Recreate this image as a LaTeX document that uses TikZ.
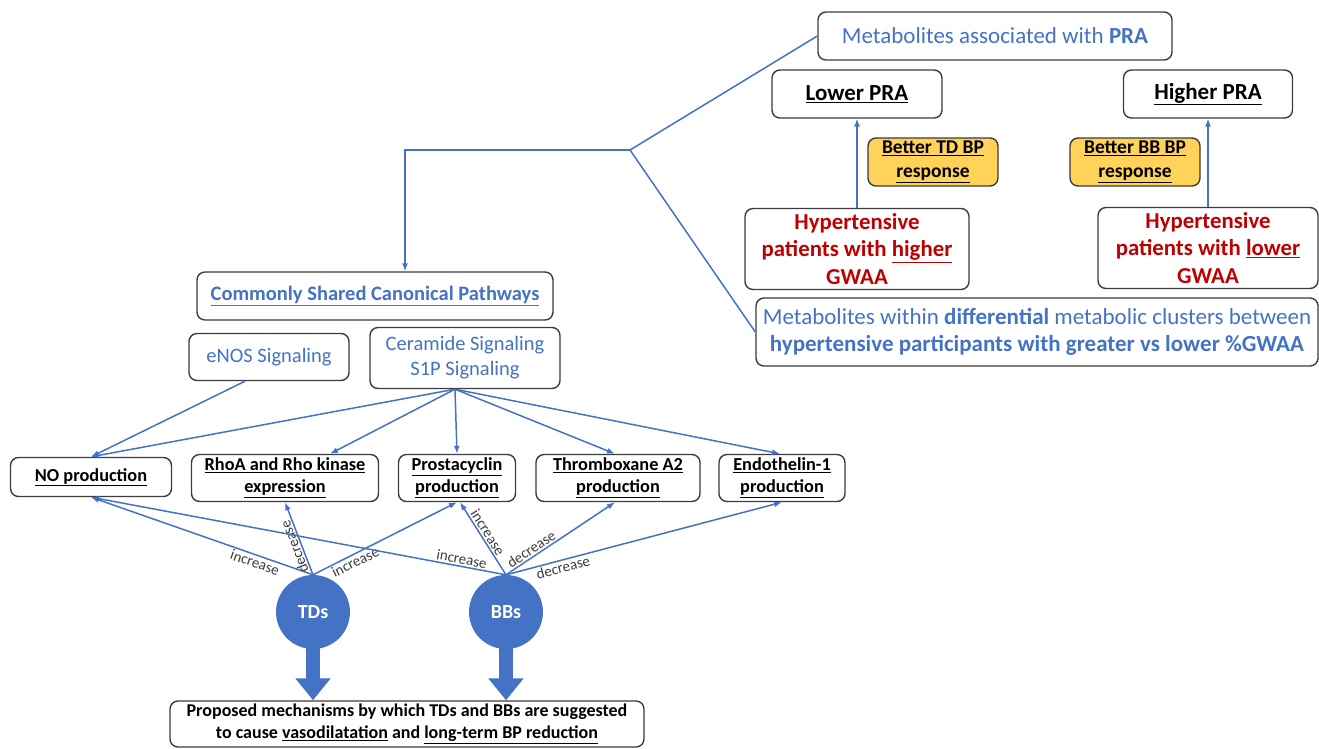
\documentclass[tikz,border=0pt]{standalone}
\usepackage{fontspec}
\setmainfont{Carlito}
\usetikzlibrary{arrows.meta}
\definecolor{blu}{RGB}{68,114,196}
\definecolor{redt}{RGB}{192,0,0}
\definecolor{yel}{RGB}{255,210,90}
\definecolor{edge}{RGB}{60,60,60}
\newcommand{\fs}[2]{\fontsize{#1}{#2}\selectfont}
\begin{document}
\begin{tikzpicture}[x=1pt, y=-1pt,
		rec/.style  = {draw=edge, rounded corners=8pt, line width=1.4pt, align=center, inner sep=2pt},
		meta/.style = {rec, text=blu, font=\fs{23}{27}},
		prai/.style = {rec, font=\fs{23}{27}\bfseries, minimum height=48pt},
		resp/.style = {rec, fill=yel, font=\fs{19.5}{24}\bfseries, minimum width=130pt, minimum height=48pt},
		hyp/.style  = {rec, text=redt, font=\fs{22.8}{27.5}\bfseries, minimum height=81pt},
		path/.style = {rec, text=blu, font=\fs{20.5}{25}},
		prod/.style = {rec, font=\fs{18.3}{22}\bfseries, minimum height=47pt},
		drug/.style = {circle, fill=blu, text=white, font=\fs{20}{20}\bfseries, minimum size=74pt, inner sep=0pt},
		lnk/.style  = {->, draw=blu, line width=1.5pt},
		big/.style  = {draw=blu, line width=14pt, -{Triangle[width=34pt, length=22pt]}},
		lbl/.style  = {font=\fs{15}{15}, text=edge, inner sep=1.5pt, sloped},
		>={Latex[length=8pt, width=6pt]}]
		\useasboundingbox (0,0) rectangle (1319,748);
		
		% right part: PRA and GWAA
		\node[meta, minimum width=354pt, minimum height=48pt] (pra) at (995,36) {Metabolites associated with \textbf{PRA}};
		\node[prai, minimum width=170pt] (lo) at (857,94) {\underline{Lower PRA}};
		\node[prai, minimum width=169pt] (hi) at (1208,94) {\underline{Higher PRA}};
		\node[resp] (r1) at (933,162) {\underline{Better TD BP}\\\underline{response}};
		\node[resp] (r2) at (1135,162) {\underline{Better BB BP}\\\underline{response}};
		\node[hyp, minimum width=224pt] (h1) at (857,249) {Hypertensive\\patients with \underline{higher}\\GWAA};
		\node[hyp, minimum width=220pt] (h2) at (1208,248) {Hypertensive\\patients with \underline{lower}\\GWAA};
		\node[meta, minimum width=562pt, minimum height=68pt] (diff) at (1037,332)
			{Metabolites within \textbf{differential} metabolic clusters between\\\textbf{hypertensive participants with greater vs lower \%GWAA}};
		
		\draw[lnk, line width=1.2pt] (h1) -- (lo);
		\draw[lnk, line width=1.2pt] (h2) -- (hi);
		
		% branching lines
		\coordinate (j) at (630,150);
		\draw[blu, line width=1.5pt] (pra.west) -- (j) -- (diff.west);
		
		% left part: pathways
		\node[rec, text=blu, font=\fs{20.5}{25}\bfseries, minimum width=356pt, minimum height=48pt] (csp) at (375,296) {\underline{Commonly Shared Canonical Pathways}};
		\node[path, minimum width=160pt, minimum height=47pt] (c1) at (269,357) {eNOS Signaling};
		\node[path, minimum width=190pt, minimum height=61pt] (c2) at (465,358) {Ceramide Signaling\\S1P Signaling};
		\draw[lnk] (j) -| ([xshift=30pt]csp.north);
		
		% products
		\node[prod, minimum width=161pt, minimum height=39pt] (p1) at (91,477) {\underline{NO production}};
		\node[prod, minimum width=187pt] (p2) at (285,478) {\underline{RhoA and Rho kinase}\\\underline{expression}};
		\node[prod, minimum width=117pt] (p3) at (457,478) {\underline{Prostacyclin}\\\underline{production}};
		\node[prod, minimum width=164pt] (p4) at (618,478) {\underline{Thromboxane A2}\\\underline{production}};
		\node[prod, minimum width=126pt] (p5) at (782,478) {\underline{Endothelin-1}\\\underline{production}};
		
		\draw[lnk] ([xshift=-24pt]c1.south) -- (p1.north);
		\foreach \t/\s in {p1/0, p2/45, p3/0, p4/-3, p5/-2}
		\draw[lnk] ([xshift=-10pt]c2.south) -- ([xshift=\s pt]\t.north);
		
		% drugs
		\node[drug] (td) at (313,612) {TDs};
		\node[drug] (bb) at (506,612) {BBs};
		\node[rec, font=\fs{18}{22}\bfseries, minimum width=474pt, minimum height=46pt] (prop) at (407,724)
			{Proposed mechanisms by which TDs and BBs are suggested\\to cause \underline{vasodilatation} and \underline{long-term BP reduction}};
		
		\draw[lnk] (td.north) -- node[lbl, below, pos=0.25] {increase} (p1.south);
		\draw[lnk] (td.north) -- node[lbl, allow upside down, above, pos=0.42] {decrease} (p2.south);
		\draw[lnk] (td.north) -- node[lbl, below, pos=0.27] {increase} (p3.south);
		\draw[lnk] (bb.north) -- node[lbl, above, pos=0.11] {increase} (p1.south);
		\draw[lnk] (bb.north) -- node[lbl, above, pos=0.53] {increase} ([xshift=3pt]p3.south);
		\draw[lnk] (bb.north) -- node[lbl, above, pos=0.27] {decrease} ([xshift=-3pt]p4.south);
		\draw[lnk] (bb.north) -- node[lbl, below, pos=0.2] {decrease} (p5.south);
		
		\draw[big] ([yshift=-28pt]td.center) -- (prop.north -| td);
		\draw[big] ([yshift=-28pt]bb.center) -- (prop.north -| bb);
\end{tikzpicture}
\end{document}
